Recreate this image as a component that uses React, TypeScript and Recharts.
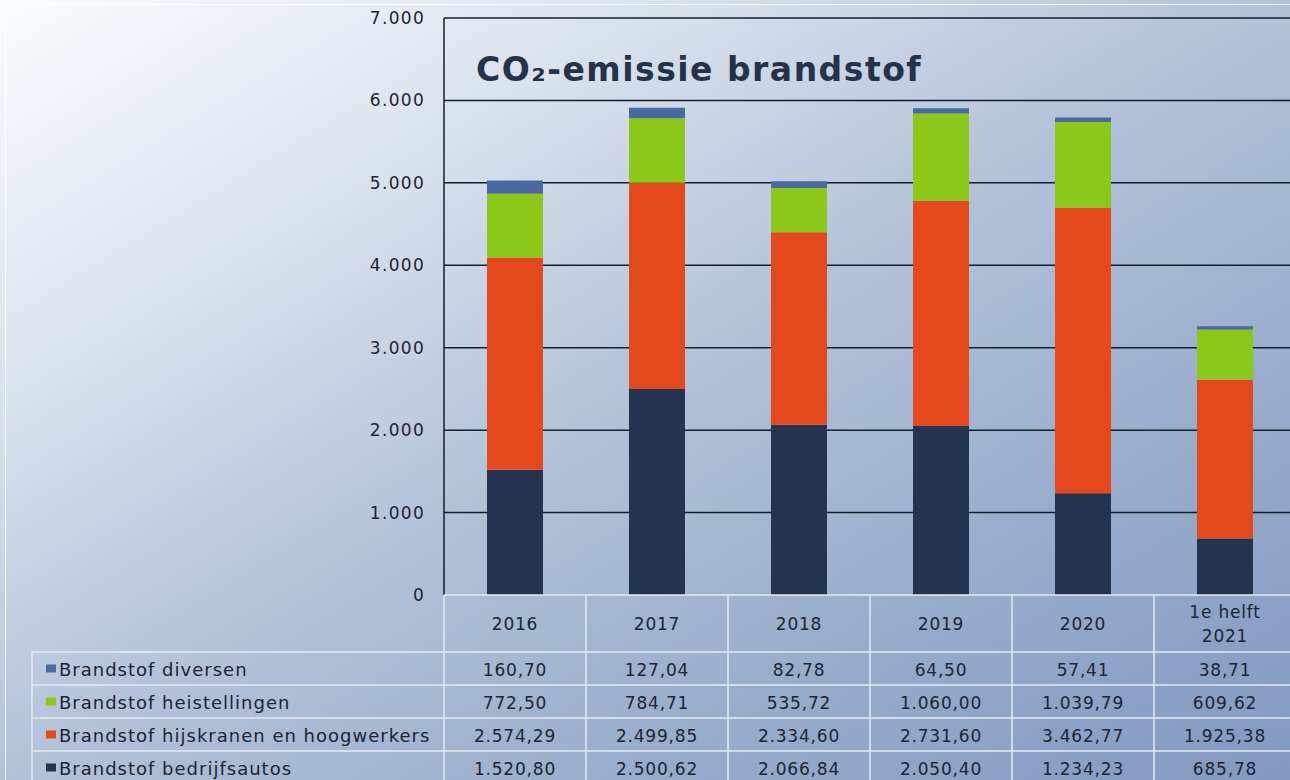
import React from 'react';
import { BarChart, Bar, XAxis, YAxis, CartesianGrid } from 'recharts';

// values (CO2 in ton)
const categories = ['2016', '2017', '2018', '2019', '2020', '1e helft 2021'];
const bedrijfsautos = [1520.8, 2500.62, 2066.84, 2050.4, 1234.23, 685.78];
const hijskranen = [2574.29, 2499.85, 2334.6, 2731.6, 3462.77, 1925.38];
const heistellingen = [772.5, 784.71, 535.72, 1060.0, 1039.79, 609.62];
const diversen = [160.7, 127.04, 82.78, 64.5, 57.41, 38.71];
const yTicks = [0, 1000, 2000, 3000, 4000, 5000, 6000, 7000];

// table order, top to bottom
const series = [
    { key: 'diversen', name: 'Brandstof diversen', color: '#4a6a9f', values: diversen },
    { key: 'heistellingen', name: 'Brandstof heistellingen', color: '#8cc81c', values: heistellingen },
    { key: 'hijskranen', name: 'Brandstof hijskranen en hoogwerkers', color: '#e3491d', values: hijskranen },
    { key: 'bedrijfsautos', name: 'Brandstof bedrijfsautos', color: '#243450', values: bedrijfsautos },
];

const data = categories.map((name, i) => {
    const row: any = { name };
    series.forEach(s => { row[s.key] = s.values[i]; });
    return row;
});

const CHART_W = 1302;
const CHART_H = 780;
const PLOT_LEFT = 444;
const PLOT_TOP = 18;
const PLOT_BOTTOM = 595;
const COL_W = 142;
const LEGEND_LEFT = 32;
const HEADER_BOTTOM = 652;
const ROW_H = 33;
const FONT = '"DejaVu Sans", Verdana, sans-serif';
const TEXT = '#1d2436';
const LINE = '#e4eaf3';

const fmtInt = (v: number) => String(Math.round(v)).replace(/\B(?=(\d{3})+(?!\d))/g, '.');

const fmtNum = (v: number) => {
    const [int, dec] = v.toFixed(2).split('.');
    return int.replace(/\B(?=(\d{3})+(?!\d))/g, '.') + ',' + dec;
};

const TableTick = (props: any) => {
    const { x, index, payload } = props;
    const left = x - COL_W / 2;
    const right = x + COL_W / 2;
    const label: string = payload.value;
    const lines = label.startsWith('1e') ? ['1e helft', label.replace('1e helft ', '')] : [label];
    const headerMid = (PLOT_BOTTOM + HEADER_BOTTOM) / 2;

    return (
        <g>
            <line x1={left} x2={left} y1={PLOT_BOTTOM} y2={CHART_H} stroke={LINE} strokeWidth={1.5} />
            {index === categories.length - 1 && (
                <line x1={right} x2={right} y1={PLOT_BOTTOM} y2={CHART_H} stroke={LINE} strokeWidth={1.5} />
            )}
            <line x1={left} x2={right} y1={PLOT_BOTTOM} y2={PLOT_BOTTOM} stroke={LINE} strokeWidth={1.5} />
            {lines.map((t, i) => (
                <text key={t} x={x} y={headerMid + (i - (lines.length - 1) / 2) * 24} textAnchor="middle"
                      dominantBaseline="central" fontFamily={FONT} fontSize={17} letterSpacing={0.8} fill={TEXT}>
                    {t}
                </text>
            ))}
            {series.map((s, r) => {
                const top = HEADER_BOTTOM + r * ROW_H;
                return (
                    <g key={s.key}>
                        <line x1={left} x2={right} y1={top} y2={top} stroke={LINE} strokeWidth={1.5} />
                        <text x={x} y={top + ROW_H / 2 + 1} textAnchor="middle" dominantBaseline="central"
                              fontFamily={FONT} fontSize={17} letterSpacing={0.8} fill={TEXT}>
                            {fmtNum(s.values[index])}
                        </text>
                    </g>
                );
            })}
            {index === 0 && (
                <g>
                    <line x1={LEGEND_LEFT} x2={LEGEND_LEFT} y1={HEADER_BOTTOM} y2={CHART_H} stroke={LINE} strokeWidth={1.5} />
                    {series.map((s, r) => {
                        const top = HEADER_BOTTOM + r * ROW_H;
                        return (
                            <g key={s.key}>
                                <line x1={LEGEND_LEFT} x2={left} y1={top} y2={top} stroke={LINE} strokeWidth={1.5} />
                                <rect x={LEGEND_LEFT + 14} y={top + ROW_H / 2 - 4} width={10} height={8} fill={s.color} />
                                <text x={LEGEND_LEFT + 27} y={top + ROW_H / 2 + 1} dominantBaseline="central"
                                      fontFamily={FONT} fontSize={18} letterSpacing={1.0} fill={TEXT}>
                                    {s.name}
                                </text>
                            </g>
                        );
                    })}
                </g>
            )}
        </g>
    );
};

const App: React.FC = () => {
    return (
        <div style={{
            position: 'fixed', left: 0, top: 0, width: 1290, height: 780, overflow: 'hidden',
            background: 'linear-gradient(to bottom right, #fafbfd 0%, #dbe3ee 25%, #b3c2d9 50%, #98abcb 75%, #8299c0 100%)',
        }}>
            <div style={{
                position: 'absolute', left: 5, top: 4, width: 1300, height: 800,
                borderLeft: '1px solid rgba(255,255,255,0.8)', borderTop: '1px solid rgba(255,255,255,0.8)',
            }} />
            <div style={{ position: 'absolute', left: 0, top: 0 }}>
                <BarChart width={CHART_W} height={CHART_H} data={data}
                          margin={{ top: PLOT_TOP, right: CHART_W - PLOT_LEFT - COL_W * 6, bottom: 0, left: PLOT_LEFT - 60 }}
                          barSize={56}>
                    <CartesianGrid vertical={false} horizontalValues={yTicks.slice(1)} stroke="#161d2c" strokeWidth={1.5} />
                    <XAxis dataKey="name" interval={0} height={CHART_H - PLOT_BOTTOM} axisLine={false} tickLine={false}
                           tick={<TableTick />} />
                    <YAxis width={60} domain={[0, 7000]} ticks={yTicks} interval={0} tickFormatter={fmtInt}
                           axisLine={{ stroke: '#161d2c', strokeWidth: 1.5 }} tickLine={false} tickMargin={13}
                           tick={{ fontFamily: FONT, fontSize: 17, fill: TEXT, letterSpacing: 1.3 }} />
                    {[...series].reverse().map(s => (
                        <Bar key={s.key} dataKey={s.key} name={s.name} stackId="a" fill={s.color} isAnimationActive={false} />
                    ))}
                </BarChart>
            </div>
            <div style={{
                position: 'absolute', left: 476, top: 50, fontFamily: FONT, fontWeight: 'bold', fontSize: 33,
                letterSpacing: 1.5, color: '#253249', lineHeight: '40px', whiteSpace: 'nowrap',
            }}>
                CO₂-emissie brandstof
            </div>
        </div>
    );
};

export default App;
